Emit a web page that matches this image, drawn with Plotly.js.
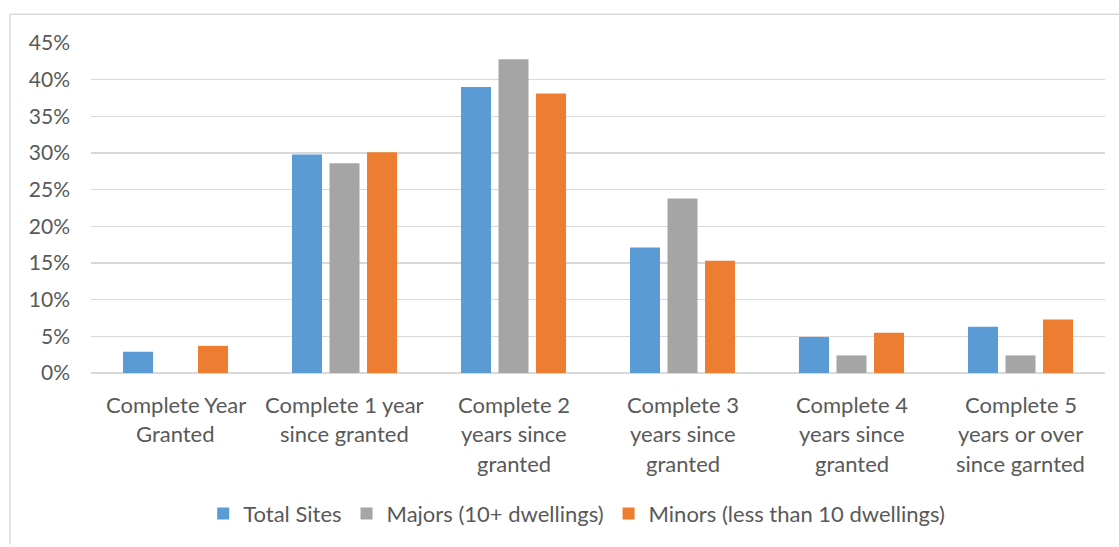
<!DOCTYPE html>
<html>
<head>
<meta charset="utf-8">
<script src="https://cdn.plot.ly/plotly-3.0.1.min.js"></script>
<style>html,body{margin:0;padding:0;background:#fff;}#chart{width:1119px;height:547px;}</style>
</head>
<body>
<div id="chart"></div>
<script>
const categories = [
  "Complete Year<br>Granted",
  "Complete 1 year<br>since granted",
  "Complete 2<br>years since<br>granted",
  "Complete 3<br>years since<br>granted",
  "Complete 4<br>years since<br>granted",
  "Complete 5<br>years or over<br>since garnted"
];
const totalSites = [0.029, 0.298, 0.390, 0.171, 0.049, 0.063];
const majors = [0.0, 0.286, 0.428, 0.238, 0.024, 0.024];
const minors = [0.037, 0.301, 0.381, 0.153, 0.055, 0.073];
const yTicks = [0, 0.05, 0.10, 0.15, 0.20, 0.25, 0.30, 0.35, 0.40, 0.45];
const yTickLabels = ["0%", "5%", "10%", "15%", "20%", "25%", "30%", "35%", "40%", "45%"];

const fontFam = "Lato, 'Noto Sans', sans-serif";
const txt = "#595959";

const traces = [
  {type: "bar", name: "Total Sites", x: categories, y: totalSites, marker: {color: "#5B9BD5"}, hoverinfo: "none"},
  {type: "bar", name: "Majors (10+ dwellings)", x: categories, y: majors, marker: {color: "#A5A5A5"}, hoverinfo: "none"},
  {type: "bar", name: "Minors (less than 10 dwellings)", x: categories, y: minors, marker: {color: "#ED7D31"}, hoverinfo: "none"}
];

// x-axis category labels as text annotations (one per line, for Office-like line spacing)
const annotations = [];
categories.forEach(function (cat) {
  cat.split("<br>").forEach(function (line, i) {
    annotations.push({
      x: cat, y: 0, xref: "x", yref: "y", text: line, showarrow: false,
      xanchor: "center", yanchor: "middle", yshift: -31 - i * 29.5,
      font: {family: fontFam, size: 22, color: txt}
    });
  });
});

const layout = {
  width: 1119, height: 547,
  margin: {l: 91, r: 14, t: 43, b: 171},
  paper_bgcolor: "#ffffff", plot_bgcolor: "#ffffff",
  font: {family: fontFam, size: 20, color: txt},
  barmode: "group",
  bargap: 0.334,
  bargroupgap: 0.2,
  showlegend: true,
  legend: {orientation: "h", x: 0.479, xanchor: "center", y: -0.426, yanchor: "middle",
           font: {family: fontFam, size: 22, color: txt}, traceorder: "normal"},
  xaxis: {type: "category", showgrid: false, zeroline: false, showline: false, ticks: "",
          showticklabels: false},
  yaxis: {range: [0, 0.45], tickvals: yTicks, ticktext: yTickLabels, showgrid: true,
          gridcolor: "#D9D9D9", gridwidth: 1.5, zeroline: true, zerolinecolor: "#D9D9D9", zerolinewidth: 1.5,
          showline: false, ticks: "", ticklen: 0, ticklabelstandoff: 20,
          tickfont: {family: fontFam, size: 21, color: txt}},
  annotations: annotations,
  shapes: [
    {type: "line", xref: "paper", yref: "paper", x0: -0.0799, x1: 1.02, y0: 1.0872, y1: 1.0872,
     line: {color: "#D9D9D9", width: 1.5}},
    {type: "line", xref: "paper", yref: "paper", x0: -0.0799, x1: -0.0799, y0: 1.0872, y1: -0.52,
     line: {color: "#D9D9D9", width: 1.5}}
  ]
};

Plotly.newPlot("chart", traces, layout, {displayModeBar: false, staticPlot: true});
</script>
</body>
</html>
